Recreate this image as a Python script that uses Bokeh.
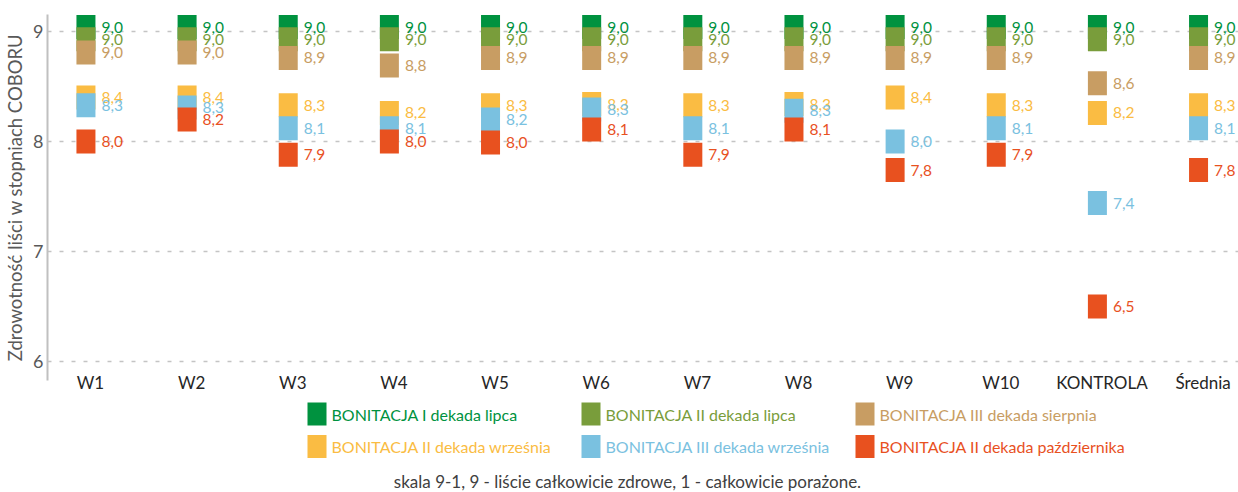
from bokeh.plotting import figure
from bokeh.models import Range1d, FixedTicker, ColumnDataSource
from bokeh.layouts import column
from bokeh.embed import file_html
from bokeh.resources import INLINE
from bokeh.core.properties import value

# ---------------- data ----------------
categories = ["W1", "W2", "W3", "W4", "W5", "W6", "W7", "W8", "W9", "W10", "KONTROLA", "Średnia"]

series_names = [
    "BONITACJA I dekada lipca",
    "BONITACJA II dekada lipca",
    "BONITACJA III dekada sierpnia",
    "BONITACJA II dekada września",
    "BONITACJA III dekada września",
    "BONITACJA II dekada października",
]
colors = ["#00923F", "#799D3B", "#C89D63", "#FABC43", "#7AC1E0", "#E8511F"]

# printed values (labels next to the markers)
val_lipca_I = [9.0, 9.0, 9.0, 9.0, 9.0, 9.0, 9.0, 9.0, 9.0, 9.0, 9.0, 9.0]
val_lipca_II = [9.0, 9.0, 9.0, 9.0, 9.0, 9.0, 9.0, 9.0, 9.0, 9.0, 9.0, 9.0]
val_sierpnia_III = [9.0, 9.0, 8.9, 8.8, 8.9, 8.9, 8.9, 8.9, 8.9, 8.9, 8.6, 8.9]
val_wrzesnia_II = [8.4, 8.4, 8.3, 8.2, 8.3, 8.3, 8.3, 8.3, 8.4, 8.3, 8.2, 8.3]
val_wrzesnia_III = [8.3, 8.3, 8.1, 8.1, 8.2, 8.3, 8.1, 8.3, 8.0, 8.1, 7.4, 8.1]
val_pazdziernika_II = [8.0, 8.2, 7.9, 8.0, 8.0, 8.1, 7.9, 8.1, 7.8, 7.9, 6.5, 7.8]

# levels at which the markers are drawn in the picture
lvl_lipca_I = [9.04, 9.04, 9.04, 9.04, 9.04, 9.04, 9.04, 9.04, 9.04, 9.04, 9.04, 9.04]
lvl_lipca_II = [8.93, 8.93, 8.93, 8.93, 8.93, 8.93, 8.93, 8.93, 8.93, 8.93, 8.93, 8.93]
lvl_sierpnia_III = [8.81, 8.81, 8.76, 8.69, 8.76, 8.76, 8.76, 8.76, 8.76, 8.76, 8.53, 8.76]
lvl_wrzesnia_II = [8.40, 8.40, 8.33, 8.26, 8.33, 8.34, 8.33, 8.34, 8.40, 8.33, 8.26, 8.33]
lvl_wrzesnia_III = [8.33, 8.31, 8.12, 8.12, 8.20, 8.29, 8.12, 8.28, 8.00, 8.12, 7.44, 8.12]
lvl_pazdziernika_II = [8.00, 8.20, 7.88, 8.00, 7.99, 8.11, 7.88, 8.11, 7.74, 7.88, 6.50, 7.74]

y_ticks = [6, 7, 8, 9]
y_title = "Zdrowotność liści w stopniach COBORU"
caption = "skala 9-1, 9 - liście całkowicie zdrowe, 1 - całkowicie porażone."

values = [val_lipca_I, val_lipca_II, val_sierpnia_III, val_wrzesnia_II, val_wrzesnia_III, val_pazdziernika_II]
levels = [lvl_lipca_I, lvl_lipca_II, lvl_sierpnia_III, lvl_wrzesnia_II, lvl_wrzesnia_III, lvl_pazdziernika_II]

FONT = "Lato"
W = 1238
LEFT = 47

# ---------------- main chart ----------------
p = figure(width=W, height=400,
           x_range=Range1d(-0.4251, 11.35), y_range=Range1d(5.8273, 9.1545),
           output_backend="svg", toolbar_location=None,
           min_border_left=LEFT, min_border_right=0, min_border_top=14, min_border_bottom=20)
p.outline_line_color = None
p.background_fill_color = "white"
p.xgrid.visible = False
p.ygrid.ticker = FixedTicker(ticks=y_ticks)
p.ygrid.grid_line_color = "#c4c4c4"
p.ygrid.grid_line_dash = "4 8"
p.ygrid.grid_line_width = 1.3

p.yaxis.ticker = FixedTicker(ticks=y_ticks)
p.yaxis.axis_line_color = "#c0c0c0"
p.yaxis.axis_line_width = 2
p.yaxis.major_tick_line_color = None
p.yaxis.minor_tick_line_color = None
p.yaxis.major_tick_out = 0
p.yaxis.major_tick_in = 0
p.yaxis.minor_tick_out = 0
p.yaxis.major_label_text_font = FONT
p.yaxis.major_label_text_font_size = "18px"
p.yaxis.major_label_text_color = "#595959"
p.yaxis.major_label_standoff = 4
p.yaxis.axis_label = y_title
p.yaxis.axis_label_text_font = FONT
p.yaxis.axis_label_text_font_size = "18.5px"
p.yaxis.axis_label_text_font_style = "normal"
p.yaxis.axis_label_text_color = "#595959"
p.yaxis.axis_label_standoff = 4

idx = list(range(len(categories)))
p.xaxis.ticker = FixedTicker(ticks=idx)
p.xaxis.major_label_overrides = {i: c for i, c in enumerate(categories)}
p.xaxis.axis_line_color = None
p.xaxis.major_tick_line_color = None
p.xaxis.minor_tick_line_color = None
p.xaxis.major_tick_out = 0
p.xaxis.major_tick_in = 0
p.xaxis.minor_tick_out = 0
p.xaxis.major_label_text_font = FONT
p.xaxis.major_label_text_font_size = "17px"
p.xaxis.major_label_text_color = "#262626"
p.xaxis.major_label_standoff = -9

marker_x = [i - 0.045 for i in idx]

for name, col, vals, lvls in zip(series_names, colors, values, levels):
    src = ColumnDataSource(dict(
        x=marker_x, y=lvls,
        txt=[("%.1f" % v).replace(".", ",") for v in vals],
    ))
    p.rect(x="x", y="y", width=19, height=24, width_units="screen", height_units="screen",
           source=src, fill_color=col, line_color=None)
    p.text(x="x", y="y", text="txt", source=src, x_offset=15.5,
           text_font=value(FONT), text_font_size="15.5px", text_color=col,
           text_baseline="middle", text_align="left")

# ---------------- legend + caption (page-pixel coordinates) ----------------
q = figure(width=W, height=92, x_range=Range1d(LEFT, W), y_range=Range1d(492, 400),
           output_backend="svg", toolbar_location=None,
           min_border_left=LEFT, min_border_right=0, min_border_top=0, min_border_bottom=0,
           x_axis_type=None, y_axis_type=None)
q.outline_line_color = None
q.grid.visible = False

leg_x = [316.5, 590.5, 864.5, 316.5, 590.5, 864.5]
leg_y = [413.5, 413.5, 413.5, 446.0, 446.0, 446.0]
lsrc = ColumnDataSource(dict(x=leg_x, y=leg_y, tx=[x + 14.5 for x in leg_x], c=colors, n=series_names))
q.rect(x="x", y="y", width=19, height=23, source=lsrc, fill_color="c", line_color=None)
q.text(x="tx", y="y", text="n", source=lsrc, text_color="c", text_font=value(FONT),
       text_font_size="16px", text_baseline="middle", text_align="left")
q.text(x=[627], y=[481], text=[caption], text_font=value(FONT), text_font_size="17px",
       text_color="#404040", text_baseline="middle", text_align="center")

layout = column(p, q, spacing=0)
open("out.html", "w").write(file_html(layout, INLINE))
